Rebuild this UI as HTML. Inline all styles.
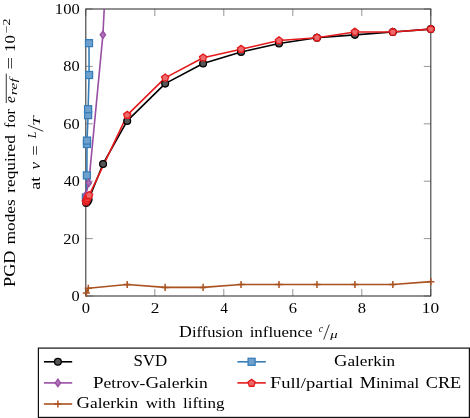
<!DOCTYPE html>
<html><head><meta charset="utf-8">
<style>
html,body{margin:0;padding:0;background:#fff;}
body{width:470px;height:418px;overflow:hidden;}
svg{display:block;will-change:transform;}
text{font-family:"Liberation Serif",serif;fill:#000;}
</style></head><body>
<svg width="470" height="418" viewBox="0 0 470 418">

<defs><clipPath id="c"><rect x="85.80" y="9.00" width="345.00" height="287.00"/></clipPath></defs>
<path d="M85.80 296.00H92.80M430.80 296.00H423.80M85.80 238.60H92.80M430.80 238.60H423.80M85.80 181.20H92.80M430.80 181.20H423.80M85.80 123.80H92.80M430.80 123.80H423.80M85.80 66.40H92.80M430.80 66.40H423.80M85.80 9.00H92.80M430.80 9.00H423.80M85.80 296.00V289.00M85.80 9.00V16.00M154.80 296.00V289.00M154.80 9.00V16.00M223.80 296.00V289.00M223.80 9.00V16.00M292.80 296.00V289.00M292.80 9.00V16.00M361.80 296.00V289.00M361.80 9.00V16.00M430.80 296.00V289.00M430.80 9.00V16.00" stroke="#7a7a7a" stroke-width="0.8" fill="none"/>
<rect x="85.80" y="9.00" width="345.00" height="287.00" fill="none" stroke="#383838" stroke-width="1.1"/>
<g clip-path="url(#c)" fill="none" stroke-width="1.6" stroke-linejoin="round">
<polyline points="86.20,203.00 87.60,201.60 88.60,199.60 103.05,163.98 127.20,120.93 165.15,83.62 203.10,63.53 241.05,52.05 279.00,43.44 316.95,37.70 354.90,34.83 392.85,31.96 430.80,29.09" stroke="#000000"/>
<polyline points="85.90,197.50 86.90,175.40 87.00,144.00 87.00,140.60 88.10,115.10 88.10,109.20 89.10,75.00 89.00,43.10" stroke="#377EB8"/>
<polyline points="85.80,195.00 88.80,182.90 102.90,34.80 107.00,-45.00" stroke="#984EA3"/>
<polyline points="85.90,201.80 86.60,200.20 87.40,198.60 88.30,196.90 89.10,195.30 127.20,115.19 165.15,77.88 203.10,57.79 241.05,49.18 279.00,40.57 316.95,37.70 354.90,31.96 392.85,31.96 430.80,29.09" stroke="#E41A1C"/>
<polyline points="86.40,293.10 88.30,288.30 127.20,284.52 165.15,287.39 203.10,287.39 241.05,284.52 279.00,284.52 316.95,284.52 354.90,284.52 392.85,284.52 430.80,281.65" stroke="#AA521F"/>
</g>
<circle cx="86.20" cy="203.00" r="3.40" fill="#555555" stroke="#000000" stroke-width="1.3"/>
<circle cx="87.60" cy="201.60" r="3.40" fill="#555555" stroke="#000000" stroke-width="1.3"/>
<circle cx="88.60" cy="199.60" r="3.40" fill="#555555" stroke="#000000" stroke-width="1.3"/>
<circle cx="103.05" cy="163.98" r="3.40" fill="#555555" stroke="#000000" stroke-width="1.3"/>
<circle cx="127.20" cy="120.93" r="3.40" fill="#555555" stroke="#000000" stroke-width="1.3"/>
<circle cx="165.15" cy="83.62" r="3.40" fill="#555555" stroke="#000000" stroke-width="1.3"/>
<circle cx="203.10" cy="63.53" r="3.40" fill="#555555" stroke="#000000" stroke-width="1.3"/>
<circle cx="241.05" cy="52.05" r="3.40" fill="#555555" stroke="#000000" stroke-width="1.3"/>
<circle cx="279.00" cy="43.44" r="3.40" fill="#555555" stroke="#000000" stroke-width="1.3"/>
<circle cx="316.95" cy="37.70" r="3.40" fill="#555555" stroke="#000000" stroke-width="1.3"/>
<circle cx="354.90" cy="34.83" r="3.40" fill="#555555" stroke="#000000" stroke-width="1.3"/>
<circle cx="392.85" cy="31.96" r="3.40" fill="#555555" stroke="#000000" stroke-width="1.3"/>
<circle cx="430.80" cy="29.09" r="3.40" fill="#555555" stroke="#000000" stroke-width="1.3"/>
<rect x="82.40" y="194.00" width="7.00" height="7.00" fill="#6FA1CF" stroke="#377EB8" stroke-width="1.3"/>
<rect x="83.40" y="171.90" width="7.00" height="7.00" fill="#6FA1CF" stroke="#377EB8" stroke-width="1.3"/>
<rect x="83.50" y="140.50" width="7.00" height="7.00" fill="#6FA1CF" stroke="#377EB8" stroke-width="1.3"/>
<rect x="83.50" y="137.10" width="7.00" height="7.00" fill="#6FA1CF" stroke="#377EB8" stroke-width="1.3"/>
<rect x="84.60" y="111.60" width="7.00" height="7.00" fill="#6FA1CF" stroke="#377EB8" stroke-width="1.3"/>
<rect x="84.60" y="105.70" width="7.00" height="7.00" fill="#6FA1CF" stroke="#377EB8" stroke-width="1.3"/>
<rect x="85.60" y="71.50" width="7.00" height="7.00" fill="#6FA1CF" stroke="#377EB8" stroke-width="1.3"/>
<rect x="85.50" y="39.60" width="7.00" height="7.00" fill="#6FA1CF" stroke="#377EB8" stroke-width="1.3"/>
<polygon points="85.80,191.30 88.50,195.00 85.80,198.70 83.10,195.00" fill="#AD71B5" stroke="#984EA3" stroke-width="1.3"/>
<polygon points="88.80,179.20 91.50,182.90 88.80,186.60 86.10,182.90" fill="#AD71B5" stroke="#984EA3" stroke-width="1.3"/>
<polygon points="102.90,31.10 105.60,34.80 102.90,38.50 100.20,34.80" fill="#AD71B5" stroke="#984EA3" stroke-width="1.3"/>
<polygon points="85.90,198.00 89.51,200.63 88.13,204.87 83.67,204.87 82.29,200.63" fill="#EC6A6C" stroke="#E41A1C" stroke-width="1.3"/>
<polygon points="86.60,196.40 90.21,199.03 88.83,203.27 84.37,203.27 82.99,199.03" fill="#EC6A6C" stroke="#E41A1C" stroke-width="1.3"/>
<polygon points="87.40,194.80 91.01,197.43 89.63,201.67 85.17,201.67 83.79,197.43" fill="#EC6A6C" stroke="#E41A1C" stroke-width="1.3"/>
<polygon points="88.30,193.10 91.91,195.73 90.53,199.97 86.07,199.97 84.69,195.73" fill="#EC6A6C" stroke="#E41A1C" stroke-width="1.3"/>
<polygon points="89.10,191.50 92.71,194.13 91.33,198.37 86.87,198.37 85.49,194.13" fill="#EC6A6C" stroke="#E41A1C" stroke-width="1.3"/>
<polygon points="127.20,111.39 130.81,114.02 129.43,118.26 124.97,118.26 123.59,114.02" fill="#EC6A6C" stroke="#E41A1C" stroke-width="1.3"/>
<polygon points="165.15,74.08 168.76,76.71 167.38,80.95 162.92,80.95 161.54,76.71" fill="#EC6A6C" stroke="#E41A1C" stroke-width="1.3"/>
<polygon points="203.10,53.99 206.71,56.62 205.33,60.86 200.87,60.86 199.49,56.62" fill="#EC6A6C" stroke="#E41A1C" stroke-width="1.3"/>
<polygon points="241.05,45.38 244.66,48.01 243.28,52.25 238.82,52.25 237.44,48.01" fill="#EC6A6C" stroke="#E41A1C" stroke-width="1.3"/>
<polygon points="279.00,36.77 282.61,39.40 281.23,43.64 276.77,43.64 275.39,39.40" fill="#EC6A6C" stroke="#E41A1C" stroke-width="1.3"/>
<polygon points="316.95,33.90 320.56,36.53 319.18,40.77 314.72,40.77 313.34,36.53" fill="#EC6A6C" stroke="#E41A1C" stroke-width="1.3"/>
<polygon points="354.90,28.16 358.51,30.79 357.13,35.03 352.67,35.03 351.29,30.79" fill="#EC6A6C" stroke="#E41A1C" stroke-width="1.3"/>
<polygon points="392.85,28.16 396.46,30.79 395.08,35.03 390.62,35.03 389.24,30.79" fill="#EC6A6C" stroke="#E41A1C" stroke-width="1.3"/>
<polygon points="430.80,25.29 434.41,27.92 433.03,32.16 428.57,32.16 427.19,27.92" fill="#EC6A6C" stroke="#E41A1C" stroke-width="1.3"/>
<path d="M82.80 293.10H90.00M86.40 289.50V296.70" stroke="#AA521F" stroke-width="1.5" fill="none"/>
<path d="M84.70 288.30H91.90M88.30 284.70V291.90" stroke="#AA521F" stroke-width="1.5" fill="none"/>
<path d="M123.60 284.52H130.80M127.20 280.92V288.12" stroke="#AA521F" stroke-width="1.5" fill="none"/>
<path d="M161.55 287.39H168.75M165.15 283.79V290.99" stroke="#AA521F" stroke-width="1.5" fill="none"/>
<path d="M199.50 287.39H206.70M203.10 283.79V290.99" stroke="#AA521F" stroke-width="1.5" fill="none"/>
<path d="M237.45 284.52H244.65M241.05 280.92V288.12" stroke="#AA521F" stroke-width="1.5" fill="none"/>
<path d="M275.40 284.52H282.60M279.00 280.92V288.12" stroke="#AA521F" stroke-width="1.5" fill="none"/>
<path d="M313.35 284.52H320.55M316.95 280.92V288.12" stroke="#AA521F" stroke-width="1.5" fill="none"/>
<path d="M351.30 284.52H358.50M354.90 280.92V288.12" stroke="#AA521F" stroke-width="1.5" fill="none"/>
<path d="M389.25 284.52H396.45M392.85 280.92V288.12" stroke="#AA521F" stroke-width="1.5" fill="none"/>
<path d="M427.20 281.65H434.40M430.80 278.05V285.25" stroke="#AA521F" stroke-width="1.5" fill="none"/>
<text transform="translate(71.57,301.00) scale(1.1667,1)" font-size="14.00" style="">0</text>
<text transform="translate(63.37,243.60) scale(1.1692,1)" font-size="14.00" style="">20</text>
<text transform="translate(63.66,186.20) scale(1.1472,1)" font-size="14.00" style="">40</text>
<text transform="translate(63.37,128.80) scale(1.1692,1)" font-size="14.00" style="">60</text>
<text transform="translate(63.37,71.40) scale(1.1692,1)" font-size="14.00" style="">80</text>
<text transform="translate(54.87,14.00) scale(1.1844,1)" font-size="14.00" style="">100</text>
<text transform="translate(81.86,312.70) scale(1.1833,1)" font-size="14.00" style="">0</text>
<text transform="translate(150.83,312.70) scale(1.2348,1)" font-size="14.00" style="">2</text>
<text transform="translate(220.18,312.70) scale(1.0923,1)" font-size="14.00" style="">4</text>
<text transform="translate(288.86,312.70) scale(1.1833,1)" font-size="14.00" style="">6</text>
<text transform="translate(357.86,312.70) scale(1.1833,1)" font-size="14.00" style="">8</text>
<text transform="translate(421.85,312.70) scale(1.2408,1)" font-size="14.00" style="">10</text>
<text transform="translate(179.10,336.50) scale(1.0991,1)" font-size="15.00" style=""><tspan font-size="16.20">D</tspan>iffusion</text>
<text transform="translate(249.67,336.50) scale(1.1255,1)" font-size="15.00" style="">influence</text>
<text transform="translate(318.86,332.10) scale(0.9412,1)" font-size="10.20" style="font-style:italic">c</text>
<text transform="translate(330.30,337.60) scale(1.4000,1)" font-size="10.50" style="font-style:italic">&#956;</text>
<text transform="translate(133.41,366.30) scale(1.0439,1)" font-size="15.00" style=""><tspan font-size="16.20">SVD</tspan></text>
<text transform="translate(93.07,387.50) scale(1.1682,1)" font-size="15.00" style=""><tspan font-size="16.20">P</tspan>etrov-<tspan font-size="16.20">G</tspan>alerkin</text>
<text transform="translate(76.48,407.80) scale(1.1543,1)" font-size="15.00" style=""><tspan font-size="16.20">G</tspan>alerkin</text>
<text transform="translate(145.65,407.80) scale(1.1283,1)" font-size="15.00" style="">with</text>
<text transform="translate(182.97,407.80) scale(1.1366,1)" font-size="15.00" style="">lifting</text>
<text transform="translate(334.09,366.20) scale(1.1448,1)" font-size="15.00" style=""><tspan font-size="16.20">G</tspan>alerkin</text>
<text transform="translate(270.03,387.60) scale(1.2361,1)" font-size="15.00" style=""><tspan font-size="16.20">F</tspan>ull/partial</text>
<text transform="translate(359.69,387.60) scale(1.1269,1)" font-size="15.00" style=""><tspan font-size="16.20">M</tspan>inimal</text>
<text transform="translate(425.71,387.60) scale(1.1267,1)" font-size="15.00" style=""><tspan font-size="16.20">CRE</tspan></text>
<text transform="translate(15.30,286.91) rotate(-90) scale(1.1232,1)" font-size="15.00" style=""><tspan font-size="16.20">PGD</tspan></text>
<text transform="translate(15.30,244.34) rotate(-90) scale(1.1503,1)" font-size="15.00" style="">modes</text>
<text transform="translate(15.30,192.74) rotate(-90) scale(1.1556,1)" font-size="15.00" style="">required</text>
<text transform="translate(15.30,127.88) rotate(-90) scale(1.0687,1)" font-size="15.00" style="">for</text>
<text transform="translate(15.30,103.07) rotate(-90) scale(1.0435,1)" font-size="15.00" style="font-style:italic">e</text>
<text transform="translate(17.40,95.33) rotate(-90) scale(1.4560,1)" font-size="11.00" style="font-style:italic">ref</text>
<text transform="translate(15.30,69.70) rotate(-90) scale(1.5286,1)" font-size="15.00" style="">=</text>
<text transform="translate(15.30,51.95) rotate(-90) scale(1.1170,1)" font-size="15.00" style="">10</text>
<text transform="translate(10.00,33.31) rotate(-90) scale(1.3268,1)" font-size="10.50" style="">&#8722;2</text>
<text transform="translate(39.70,189.75) rotate(-90) scale(1.1902,1)" font-size="15.00" style="">at</text>
<text transform="translate(39.70,169.53) rotate(-90) scale(1.1231,1)" font-size="15.00" style="font-style:italic">v</text>
<text transform="translate(39.70,155.77) rotate(-90) scale(1.2286,1)" font-size="15.00" style="">=</text>
<text transform="translate(36.20,138.20) rotate(-90) scale(1.0435,1)" font-size="11.50" style="font-style:italic">L</text>
<text transform="translate(39.90,125.63) rotate(-90) scale(1.6348,1)" font-size="10.50" style="font-style:italic">T</text>
<path d="M6.25 103.0V73.6" stroke="#000" stroke-width="0.8"/>
<path d="M43.3 131.3L27.9 125.2" stroke="#000" stroke-width="0.8"/>
<path d="M329.3 324.5L323.7 339.6" stroke="#000" stroke-width="0.8"/>
<rect x="38.4" y="348.1" width="431.0" height="69.3" fill="none" stroke="#111" stroke-width="1.2"/>
<path d="M43.9 361.80H72.2" stroke="#000000" stroke-width="1.6"/>
<circle cx="57.90" cy="361.80" r="3.40" fill="#555555" stroke="#000000" stroke-width="1.3"/>
<path d="M43.9 382.90H72.2" stroke="#984EA3" stroke-width="1.6"/>
<polygon points="57.90,379.20 60.60,382.90 57.90,386.60 55.20,382.90" fill="#AD71B5" stroke="#984EA3" stroke-width="1.3"/>
<path d="M43.9 404.00H72.2" stroke="#AA521F" stroke-width="1.6"/>
<path d="M54.30 404.00H61.50M57.90 400.40V407.60" stroke="#AA521F" stroke-width="1.5" fill="none"/>
<path d="M237.4 361.80H265.8" stroke="#377EB8" stroke-width="1.6"/>
<rect x="248.10" y="358.30" width="7.00" height="7.00" fill="#6FA1CF" stroke="#377EB8" stroke-width="1.3"/>
<path d="M237.4 382.90H265.8" stroke="#E41A1C" stroke-width="1.6"/>
<polygon points="251.60,379.40 255.21,382.03 253.83,386.27 249.37,386.27 247.99,382.03" fill="#EC6A6C" stroke="#E41A1C" stroke-width="1.3"/>
</svg></body></html>
